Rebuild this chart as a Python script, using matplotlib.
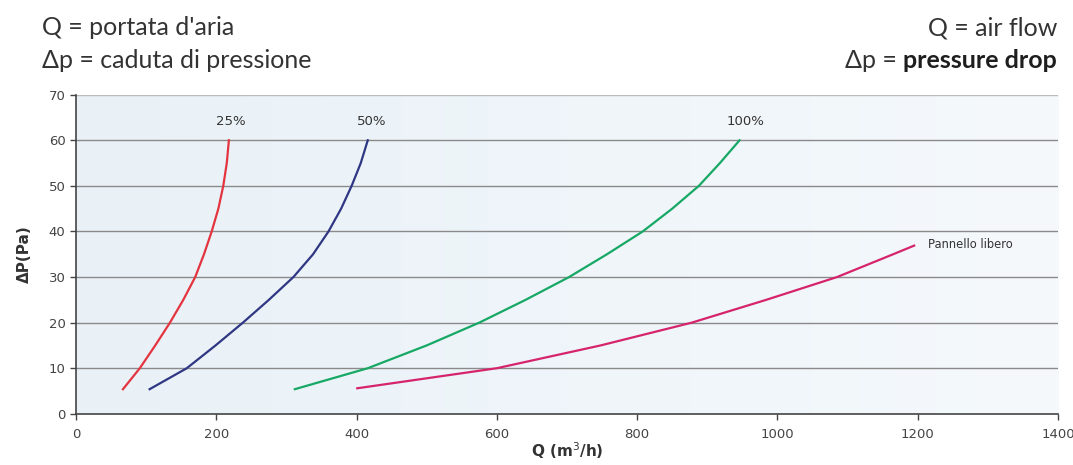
import matplotlib.pyplot as plt
from matplotlib.colors import LinearSegmentedColormap
import numpy as np

# pressure drop levels (Pa)
dp = [5.4, 10, 15, 20, 25, 30, 35, 40, 45, 50, 55, 60]

# air flow (m3/h) for each curve at the levels above
q_25 = [67, 91, 113, 134, 153, 170, 182.5, 193.5, 203, 210, 215, 218]
q_50 = [105, 158, 199, 238, 275, 310, 338, 360, 378, 393, 406, 416]
q_100 = [312, 416, 500, 575, 641, 703, 757, 808, 850, 888, 918, 946]

dp_free = [5.6, 10, 15, 20, 25, 30, 35, 36.9]
q_free = [401, 600, 748, 878, 984, 1085, 1165, 1195]

x_ticks = [0, 200, 400, 600, 800, 1000, 1200, 1400]
y_ticks = [0, 10, 20, 30, 40, 50, 60, 70]

head = ['Lato', 'DejaVu Sans']
txt = '#333333'

fig = plt.figure(figsize=(10.73, 4.65), dpi=100)
ax = fig.add_axes([0.0708, 0.1101, 0.9152, 0.6862])

# light blue background gradient of the plot area
grad = np.linspace(0, 1, 256).reshape(1, -1)
bg = LinearSegmentedColormap.from_list('bg', ['#e9f1f7', '#f5f9fc'])
ax.imshow(grad, extent=[0, 1400, 0, 70], aspect='auto', cmap=bg, zorder=0)

for y in y_ticks[1:]:
    ax.axhline(y, color='#8a8a8a' if y < 70 else '#bbbbbb', lw=1.0, zorder=1)

ax.plot(q_25, dp, color='#e4343f', lw=1.6, zorder=3)
ax.plot(q_50, dp, color='#2f3784', lw=1.6, zorder=3)
ax.plot(q_100, dp, color='#17a865', lw=1.6, zorder=3)
ax.plot(q_free, dp_free, color='#d6246c', lw=1.6, zorder=3)

ax.text(221, 62.6, '25%', ha='center', va='bottom', fontsize=9.5, color=txt)
ax.text(421, 62.6, '50%', ha='center', va='bottom', fontsize=9.5, color=txt)
ax.text(955, 62.6, '100%', ha='center', va='bottom', fontsize=9.5, color=txt)
ax.text(1214, 37.2, 'Pannello libero', ha='left', va='center', fontsize=8.3, color=txt)

ax.set_xlim(0, 1400)
ax.set_ylim(0, 70)
ax.set_xticks(x_ticks)
ax.set_yticks(y_ticks)
ax.tick_params(axis='both', length=4, width=1, color='#444444', labelsize=9.5, labelcolor='#444444')
ax.tick_params(axis='x', pad=6)

for s in ['top', 'right']:
    ax.spines[s].set_visible(False)
for s in ['left', 'bottom']:
    ax.spines[s].set_color('#444444')
    ax.spines[s].set_linewidth(1.2)

ax.set_xlabel('Q (m$^3$/h)', fontsize=11, fontweight='bold', color=txt, labelpad=0)
ax.set_ylabel('ΔP(Pa)', fontsize=11, fontweight='bold', color=txt, labelpad=12)

fig.text(0.039, 0.94, "Q = portata d'aria", fontsize=18, family=head, color=txt, va='center')
fig.text(0.039, 0.87, 'Δp = caduta di pressione', fontsize=18, family=head, color=txt, va='center')
fig.text(0.985, 0.94, 'Q = air flow', fontsize=18, family=head, color=txt, va='center', ha='right')
pd_txt = fig.text(0.985, 0.87, 'pressure drop', fontsize=18, family=head, fontweight='bold',
                  color='#1e1e1e', va='center', ha='right')
# "Δp =" sits just left of the bold part
ax.annotate('Δp = ', xy=(0, 0.5), xycoords=pd_txt, ha='right', va='center',
            fontsize=18, family=head, color=txt)

fig.savefig('out.png', dpi=100, facecolor='white')
